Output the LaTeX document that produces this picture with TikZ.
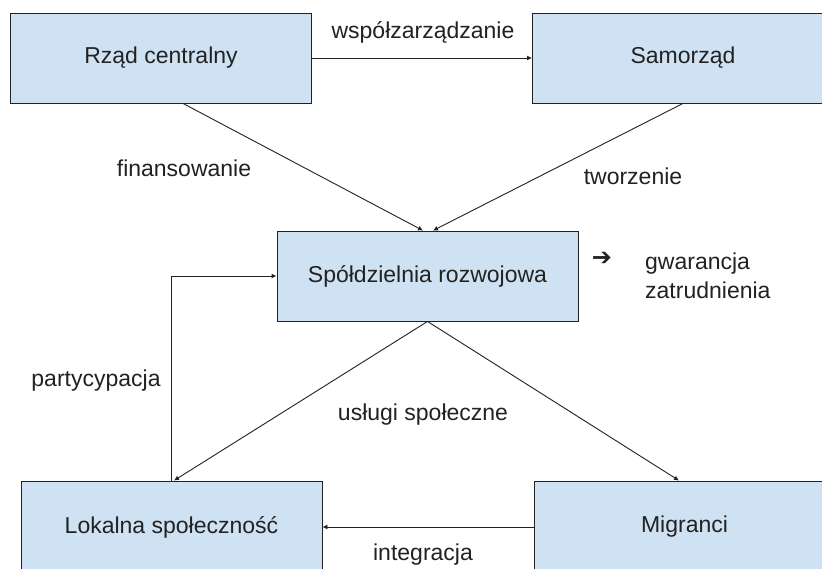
\documentclass[tikz,border=0pt]{standalone}
\usepackage{fontspec}
\setmainfont{Liberation Sans}
\newfontfamily\symfont{DejaVu Sans Bold}
\usetikzlibrary{arrows.meta,calc}
\definecolor{boxblue}{HTML}{CFE2F3}
\definecolor{ink}{HTML}{222222}
\tikzset{
  box/.style={draw=ink, fill=boxblue, line width=0.9pt, minimum width=301pt, minimum height=90pt, inner sep=0pt, text=ink, font=\fontsize{23}{28}\selectfont},
  lbl/.style={inner sep=0pt, text=ink, font=\fontsize{23}{29}\selectfont},
  conn/.style={draw=ink, line width=0.9pt, -{Latex[length=5pt,width=5pt]}}
}
\begin{document}
\begin{tikzpicture}[x=1pt,y=-1pt]
\clip (0,0) rectangle (822,569);
\fill[white] (0,0) rectangle (822,569);
\node[box] (rzad) at (161,58) {Rząd centralny};
\node[box] (samo) at (683,58) {Samorząd};
\node[box] (spol) at (427.5,276) {Spółdzielnia rozwojowa};
\node[box, minimum height=92pt] (lok) at (171.5,527) {Lokalna społeczność};
\node[box, minimum height=92pt] (mig) at (684.5,527) {Migranci};
\draw[conn] (rzad) -- (samo);
\draw[conn] ($(rzad.south)+(22pt,0)$) -- ($(spol.north)+(-4.5pt,0)$);
\draw[conn] (samo.south) -- ($(spol.north)+(5.5pt,0)$);
\draw[conn] (spol.south) -- ($(lok.north)+(2.5pt,0)$);
\draw[conn] (spol.south) -- ($(mig.north)+(-5.5pt,0)$);
\draw[conn] (lok.north) |- (spol.west);
\draw[conn] (mig) -- (lok);
\node[lbl] (l1) at (423,32) {współzarządzanie};
\node[lbl] (l2) at (184,168) {finansowanie};
\node[lbl] (l3) at (633,176) {tworzenie};
\node[lbl] (l4) at (96,381) {partycypacja};
\node[lbl] (l5) at (423,415) {usługi społeczne};
\node[lbl] (l6) at (423,555) {integracja};
\node[lbl, font=\symfont\fontsize{24}{28}\selectfont] (ar) at (602,259) {➔};
\node[lbl, anchor=west, align=left] (l7) at (645,276) {gwarancja\\zatrudnienia};
\end{tikzpicture}
\end{document}
